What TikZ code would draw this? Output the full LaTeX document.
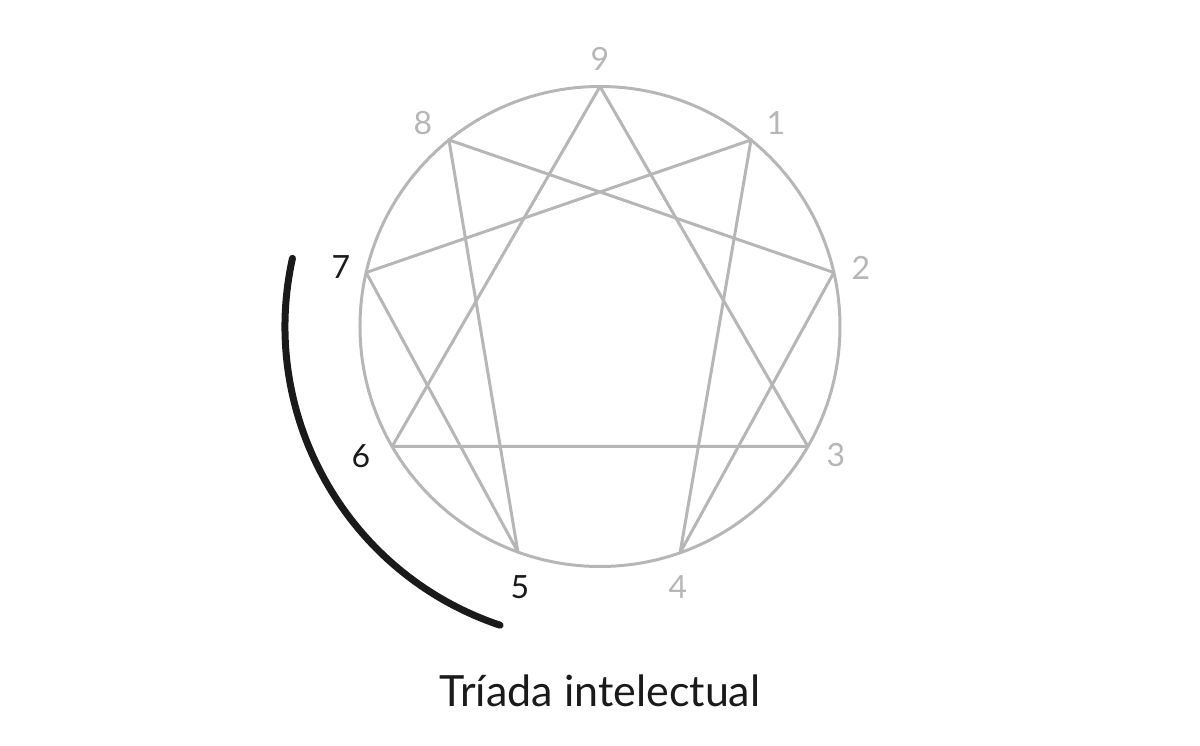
\documentclass[tikz,border=0pt]{standalone}
\usepackage{fontspec}
\setmainfont{Lato}
\usetikzlibrary{positioning}
\definecolor{linegray}{RGB}{182,182,182}
\definecolor{inkblack}{RGB}{26,26,26}

\tikzset{
  line/.style={draw=linegray, line width=3pt, line join=round},
  num/.style={font=\fontsize{32}{32}\selectfont, text=linegray, inner sep=0pt},
  numact/.style={num, text=inkblack},
}

\begin{document}
\begin{tikzpicture}[x=1pt, y=1pt]
    \useasboundingbox (-600,-419.5) rectangle (600,326.5);
    \draw[line] (0,0) circle (240);
    \foreach \n/\a in {9/90,1/51,2/13,3/-30,4/-70.5,5/-110,6/-150,7/167,8/129}
        \coordinate (v\n) at (\a:240);
    \draw[line] (v9) -- (v3) -- (v6) -- cycle;
    \draw[line] (v1) -- (v4) -- (v2) -- (v8) -- (v5) -- (v7) -- cycle;
    % numbers
    \node[num] (l9) at (0,267.5) {9};
    \node[num] (l1) at (176,203) {1};
    \node[num] (l2) at (261,58.5) {2};
    \node[num] (l3) at (236,-128.5) {3};
    \node[num] (l4) at (78,-260.5) {4};
    \node[numact] (l5) at (-80,-260.5) {5};
    \node[numact] (l6) at (-239,-129.5) {6};
    \node[numact] (l7) at (-259,59.5) {7};
    \node[num] (l8) at (-177,203) {8};
    % triad arc
    \draw[draw=inkblack, line width=7pt, line cap=round] (167.5:315) arc[start angle=167.5, end angle=251.5, radius=315];
    \node[anchor=base, inner sep=0pt, text=inkblack, font=\fontsize{43}{43}\selectfont] (title) at (0,-380.5) {Tríada intelectual};
\end{tikzpicture}
\end{document}
